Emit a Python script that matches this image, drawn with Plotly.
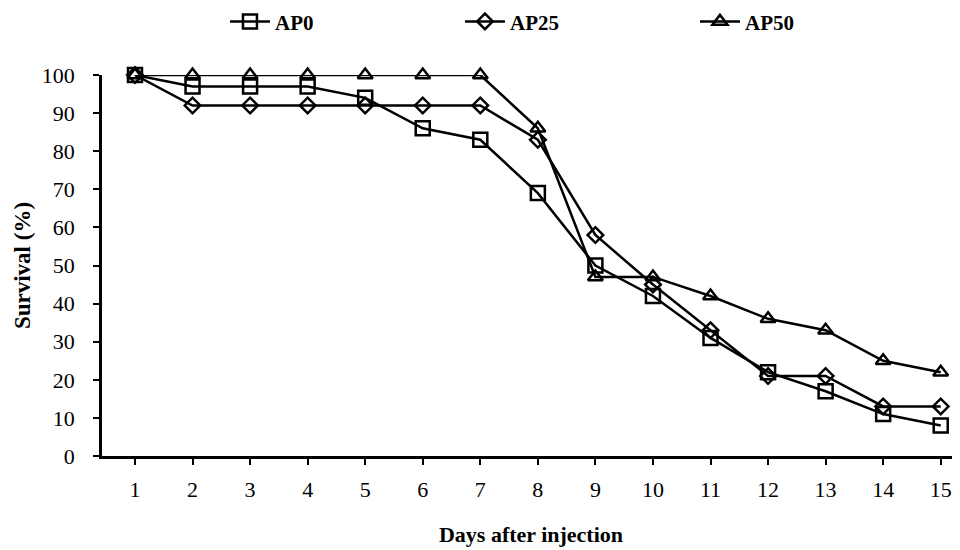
import plotly.graph_objects as go

days = list(range(1, 16))
ap0 = [100, 97, 97, 97, 94, 86, 83, 69, 50, 42, 31, 22, 17, 11, 8]
ap25 = [100, 92, 92, 92, 92, 92, 92, 83, 58, 45, 33, 21, 21, 13, 13]
ap50 = [100, 100, 100, 100, 100, 100, 100, 86, 47, 47, 42, 36, 33, 25, 22]
y_ticks = list(range(0, 101, 10))

FONT = "Liberation Serif, Times New Roman, serif"

fig = go.Figure()
series = [
    ("AP0", ap0, "square-open", 14),
    ("AP25", ap25, "diamond-open", 12),
    ("AP50", ap50, "triangle-up-open", 13),
]
for name, vals, sym, size in series:
    fig.add_trace(go.Scatter(
        x=days, y=vals, name=name, mode="lines+markers",
        line=dict(color="black", width=2.5),
        marker=dict(symbol=sym, size=size, color="black", line=dict(width=2.5, color="black")),
        cliponaxis=False,
    ))

fig.update_layout(
    width=960, height=550,
    paper_bgcolor="white", plot_bgcolor="white",
    margin=dict(l=94, r=8, t=67, b=102, autoexpand=False),
    font=dict(family=FONT, size=22, color="black"),
    showlegend=True,
    legend=dict(
        orientation="h", x=0.226, y=0.975, xanchor="left", yanchor="middle",
        yref="container", xref="container",
        entrywidth=180, entrywidthmode="pixels",
        font=dict(family=FONT, size=21, color="black", weight="bold"),
        itemwidth=40,
    ),
    xaxis=dict(
        range=[0.427, 15.335], tickmode="array", tickvals=days,
        ticktext=[str(d) for d in days],
        showline=True, linecolor="black", linewidth=2.5,
        ticks="outside", ticklen=6, tickwidth=2, tickcolor="black",
        showgrid=False, zeroline=False, automargin=False,
        tickfont=dict(family=FONT, size=22),
        ticklabelstandoff=6,
        title=dict(text="<b>Days after injection</b>", font=dict(family=FONT, size=22), standoff=26),
    ),
    yaxis=dict(
        range=[0, 100], tickmode="array", tickvals=y_ticks,
        showline=True, linecolor="black", linewidth=2.5,
        ticks="outside", ticklen=6, tickwidth=2, tickcolor="black",
        showgrid=False, zeroline=False, automargin=False,
        tickfont=dict(family=FONT, size=22),
        ticklabelstandoff=14,
        title=dict(text="<b>Survival (%)</b>", font=dict(family=FONT, size=23), standoff=5),
    ),
)

fig.write_html("out.html")
